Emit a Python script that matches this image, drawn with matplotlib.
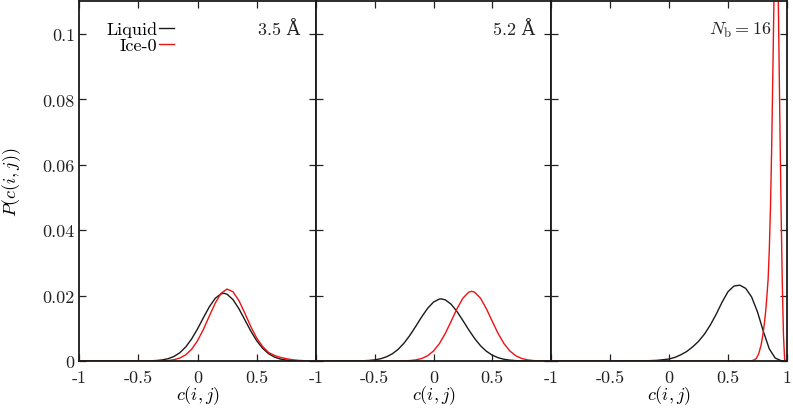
import matplotlib
matplotlib.use('Agg')
import matplotlib.pyplot as plt

plt.rcParams['font.family'] = ['cmr10', 'DejaVu Serif']
plt.rcParams['mathtext.fontset'] = 'cm'
plt.rcParams['axes.formatter.use_mathtext'] = True
plt.rcParams['font.size'] = 13

# ---- data ----
# panel 1 (3.5 A)
x_liq_1 = [-1.0, -0.5, -0.45, -0.4, -0.35, -0.3, -0.25, -0.2, -0.15, -0.1, -0.05, 0.0, 0.05, 0.1,
           0.15, 0.2, 0.225, 0.25, 0.3, 0.35, 0.4, 0.45, 0.5, 0.55, 0.6, 0.65, 0.7, 0.75, 0.8,
           0.85, 0.9, 1.0]
y_liq_1 = [0.0, 0.00001, 0.00002, 0.000055, 0.00014, 0.00032, 0.00069, 0.00136, 0.0025, 0.00426,
           0.00672, 0.00981, 0.01325, 0.01658, 0.01919, 0.02057, 0.0207, 0.02041, 0.01875,
           0.01595, 0.01255, 0.00915, 0.00617, 0.00386, 0.00223, 0.00119, 0.00059, 0.00027,
           0.00012, 0.00005, 0.00002, 0.0]
x_ice_1 = [-1.0, -0.35, -0.3, -0.25, -0.2, -0.15, -0.1, -0.05, 0.0, 0.05, 0.1, 0.15, 0.2, 0.25,
           0.3, 0.35, 0.4, 0.45, 0.5, 0.55, 0.6, 0.65, 0.7, 0.75, 0.8, 0.85, 0.9, 0.95, 1.0]
y_ice_1 = [0.0, 0.00002, 0.00005, 0.00015, 0.00039, 0.00089, 0.00188, 0.00357, 0.00618, 0.00968,
           0.01376, 0.01774, 0.02075, 0.0220, 0.02115, 0.01844, 0.01459, 0.01047, 0.00700,
           0.00440, 0.0026, 0.0017, 0.0011, 0.0007, 0.0004, 0.0002, 0.0001, 0.00003, 0.0]

# panel 2 (5.2 A)
x_liq_2 = [-1.0, -0.6, -0.55, -0.5, -0.45, -0.4, -0.35, -0.3, -0.25, -0.2, -0.15, -0.1, -0.05,
           0.0, 0.05, 0.065, 0.1, 0.15, 0.2, 0.25, 0.3, 0.35, 0.4, 0.45, 0.5, 0.55, 0.6, 0.65,
           0.7, 0.75, 1.0]
y_liq_2 = [0.0, 0.000075, 0.00017, 0.00035, 0.00069, 0.00128, 0.00221, 0.00359, 0.0055, 0.0079,
           0.01066, 0.01352, 0.01611, 0.01802, 0.01895, 0.0190, 0.01871, 0.01736, 0.01513,
           0.01239, 0.00953, 0.00689, 0.00467, 0.00298, 0.00179, 0.001, 0.00053, 0.00026,
           0.00012, 0.00005, 0.0]
x_ice_2 = [-1.0, -0.3, -0.25, -0.2, -0.15, -0.1, -0.05, 0.0, 0.05, 0.1, 0.15, 0.2, 0.25, 0.3,
           0.325, 0.35, 0.4, 0.45, 0.5, 0.55, 0.6, 0.65, 0.7, 0.75, 0.8, 0.85, 0.9, 1.0]
y_ice_2 = [0.0, 0.00002, 0.00005, 0.000135, 0.00034, 0.00077, 0.00161, 0.00306, 0.00531, 0.00841,
           0.01214, 0.01599, 0.01921, 0.02106, 0.0213, 0.02106, 0.01921, 0.01599, 0.01214,
           0.00841, 0.00531, 0.00306, 0.00161, 0.00077, 0.00034, 0.000135, 0.00005, 0.0]

# panel 3 (N_b = 16)
x_liq_3 = [-1.0, -0.3, -0.2, -0.1, 0.0, 0.05, 0.1, 0.15, 0.2, 0.25, 0.3, 0.35, 0.4, 0.45, 0.5,
           0.55, 0.6, 0.65, 0.7, 0.75, 0.8, 0.85, 0.9, 0.95, 1.0]
y_liq_3 = [0.0, 0.00002, 0.00006, 0.0002, 0.0006, 0.0011, 0.0019, 0.0029, 0.0043, 0.006, 0.0082,
           0.011, 0.0143, 0.018, 0.0212, 0.0229, 0.0232, 0.0222, 0.0196, 0.015, 0.009, 0.0037,
           0.0009, 0.0001, 0.0]
x_ice_3 = [-1.0, 0.68, 0.7, 0.72, 0.74, 0.76, 0.78, 0.79, 0.8, 0.81, 0.82, 0.83, 0.84, 0.85,
           0.86, 0.87, 0.88, 0.89, 0.9, 0.91, 0.92, 0.93, 0.94, 0.95, 0.96, 0.97, 0.98, 0.99, 1.0]
y_ice_3 = [0.0, 0.0, 0.0001, 0.0003, 0.0008, 0.0022, 0.0048, 0.0068, 0.0092, 0.012, 0.0155,
           0.02, 0.025, 0.034, 0.047, 0.065, 0.088, 0.112, 0.13, 0.138, 0.128, 0.1, 0.072,
           0.046, 0.024, 0.008, 0.0005, 0.0, 0.0]

panels = [
    (x_liq_1, y_liq_1, x_ice_1, y_ice_1, '3.5 Å'),
    (x_liq_2, y_liq_2, x_ice_2, y_ice_2, '5.2 Å'),
    (x_liq_3, y_liq_3, x_ice_3, y_ice_3, r'$N_{\mathrm{b}}=16$'),
]
xticks = [-1, -0.5, 0, 0.5, 1]
xtick_labels = ['-1', '-0.5', '0', '0.5', '1']
yticks = [0, 0.02, 0.04, 0.06, 0.08, 0.1]
ytick_labels = ['0', '0.02', '0.04', '0.06', '0.08', '0.1']

fig = plt.figure(figsize=(7.93, 4.10), dpi=100)

lefts = [79, 316, 551]
rights = [316, 551, 787]
bottom = 1 - 362 / 410.0
height = (362 - 2.3) / 410.0

for i, (xl, yl, xi, yi, tag) in enumerate(panels):
    ax = fig.add_axes([lefts[i] / 793.0, bottom, (rights[i] - lefts[i]) / 793.0, height])
    ax.plot(xl, yl, color='#1a1a1a', lw=1.0, label='Liquid')
    ax.plot(xi, yi, color='#ee1111', lw=1.0, label='Ice-0')
    ax.set_xlim(-1, 1)
    ax.set_ylim(0, 0.11)

    ax.set_xticks(xticks)
    labs = list(xtick_labels)
    if i < 2:
        labs[-1] = ''
    ax.set_xticklabels(labs)
    ax.set_yticks(yticks)
    if i == 0:
        ax.set_yticklabels(ytick_labels)
    else:
        ax.set_yticklabels([])

    ax.tick_params(direction='in', top=True, right=True, length=5, width=0.9,
                   labelsize=13, colors='#222222')
    ax.tick_params(axis='x', pad=6)
    ax.tick_params(axis='y', pad=3)
    for sp in ax.spines.values():
        sp.set_linewidth(1.3)
        sp.set_color('#1a1a1a')

    ax.set_xlabel(r'$c(i,j)$', fontsize=13, labelpad=-1)
    ax.text(0.932, 0.923, tag, transform=ax.transAxes, ha='right', va='center',
            fontsize=13, color='#222222')

    if i == 0:
        ax.set_ylabel(r'$P(c(i,j))$', fontsize=13, labelpad=14)
        ax.legend(loc='upper right', bbox_to_anchor=(0.40, 0.945), frameon=False,
                  markerfirst=False, handlelength=0.8, handletextpad=0.1,
                  labelspacing=0.05, borderpad=0, borderaxespad=0, fontsize=13)

fig.savefig('out.png', dpi=100)
